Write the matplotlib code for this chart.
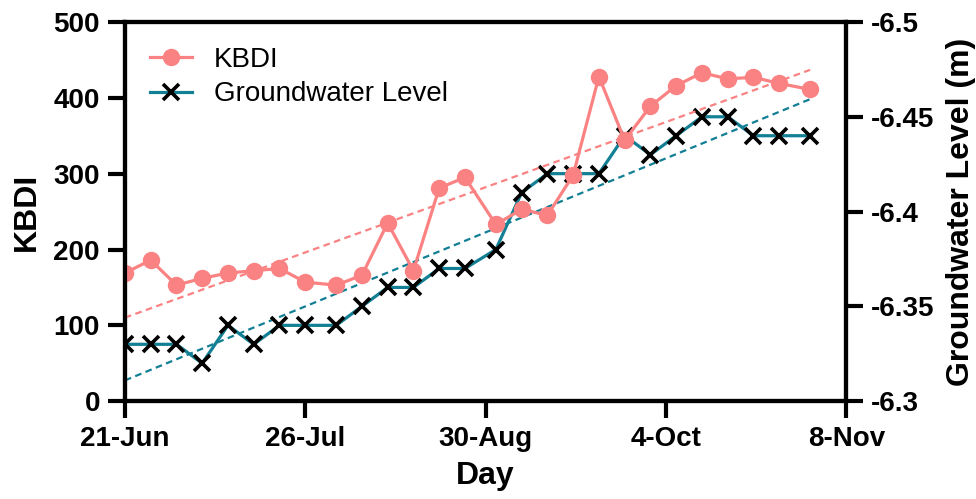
import numpy as np
import matplotlib
matplotlib.use("Agg")
import matplotlib.pyplot as plt

plt.rcParams['font.family'] = ['Liberation Sans', 'DejaVu Sans']

# days since 21-Jun
days = [0, 5, 10, 15, 20, 25, 30, 35, 41, 46, 51, 56, 61, 66,
        72, 77, 82, 87, 92, 97, 102, 107, 112, 117, 122, 127, 133]
kbdi = [169, 186, 153, 162, 169, 172, 175, 157, 153, 166, 235, 172, 281, 295,
        233, 253, 245, 298, 428, 344, 389, 416, 433, 425, 427, 419, 411]
gw_level = [-6.33, -6.33, -6.33, -6.32, -6.34, -6.33, -6.34, -6.34, -6.34, -6.35,
            -6.36, -6.36, -6.37, -6.37, -6.38, -6.41, -6.42, -6.42, -6.42, -6.44,
            -6.43, -6.44, -6.45, -6.45, -6.44, -6.44, -6.44]

tick_days = [0, 35, 70, 105, 140]
tick_labels = ['21-Jun', '26-Jul', '30-Aug', '4-Oct', '8-Nov']

pink = '#FA8282'
teal = '#127F94'

fig = plt.figure(figsize=(9.76, 4.99), dpi=100)
ax1 = fig.add_axes([0.128, 0.196, 0.739, 0.760])
ax2 = ax1.twinx()
ax1.set_zorder(ax2.get_zorder() + 1)
ax1.patch.set_visible(False)

# trend lines
x = np.array(days)
p1 = np.polyfit(x, kbdi, 1)
p2 = np.polyfit(x, gw_level, 1)
xf = np.array([days[0], days[-1]])
ax1.plot(xf, np.polyval(p1, xf), '--', color=pink, lw=1.6, dashes=(3, 2))
ax2.plot(xf, np.polyval(p2, xf), '--', color=teal, lw=1.6, dashes=(3, 2))

ax2.plot(days, gw_level, color=teal, lw=2.3, marker='x', ms=11, mec='black',
         mew=2.6, label='Groundwater Level')
ax1.plot(days, kbdi, color=pink, lw=2.3, marker='o', ms=11.5, mec=pink,
         label='KBDI')

ax1.set_xlim(0, 140)
ax1.set_ylim(0, 500)
ax1.set_yticks([0, 100, 200, 300, 400, 500])
ax2.set_ylim(-6.3, -6.5)
ax2.set_yticks([-6.3, -6.35, -6.4, -6.45, -6.5])
ax2.set_yticklabels(['-6.3', '-6.35', '-6.4', '-6.45', '-6.5'])
ax1.set_xticks(tick_days)
ax1.set_xticklabels(tick_labels)

for ax in (ax1, ax2):
    for s in ax.spines.values():
        s.set_linewidth(3)
    ax.tick_params(width=3, length=12, labelsize=20, pad=6)
    for lab in ax.get_xticklabels() + ax.get_yticklabels():
        lab.set_fontweight('bold')

ax1.set_xlabel('Day', fontsize=23, fontweight='bold', labelpad=6)
ax1.set_ylabel('KBDI', fontsize=23, fontweight='bold', labelpad=8)
ax2.set_ylabel('Groundwater Level (m)', fontsize=23, fontweight='bold', labelpad=8)

h1, l1 = ax1.get_legend_handles_labels()
h2, l2 = ax2.get_legend_handles_labels()
ax1.legend(h1 + h2, l1 + l2, loc='upper left', frameon=False, fontsize=20,
           handlelength=1.5, handletextpad=0.8, labelspacing=0.3)

fig.savefig('out.png', dpi=100)
